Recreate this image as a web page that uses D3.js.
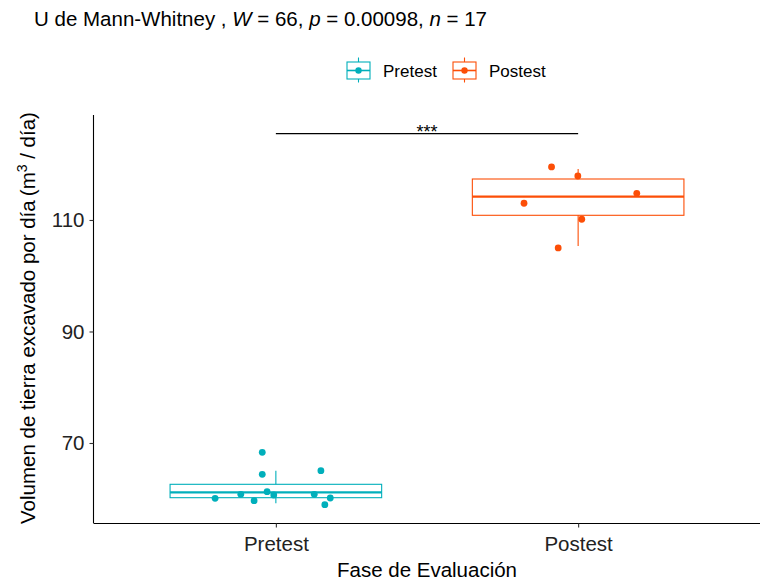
<!DOCTYPE html>
<html><head><meta charset="utf-8">
<script src="https://cdn.jsdelivr.net/npm/d3@7"></script>
<style>body{margin:0;background:#fff}svg{display:block;font-family:"Liberation Sans",Arial,sans-serif}</style>
</head><body>
<script>
const categories = ["Pretest", "Postest"];
const colors = ["#00AFBB", "#FC4E07"];
// individual observations
const pretestValues = [68.33, 64.38, 65.03, 60.08, 60.8, 59.65, 61.27, 60.67, 60.8, 60.13, 58.93];
const pretestJitter = [-0.045, -0.045, 0.149, -0.201, -0.116, -0.072, -0.029, -0.007, 0.127, 0.180, 0.162];
const postestValues = [119.51, 117.89, 114.79, 113.0, 110.13, 104.98];
const postestJitter = [-0.088, -0.001, 0.194, -0.179, 0.012, -0.066];
// box statistics [lower whisker, q1, median, q3, upper whisker]
const pretestBox = [59.18, 60.19, 61.16, 62.59, 65.03];
const postestBox = [105.34, 110.84, 114.18, 117.35, 119.15];
const yTicks = [70, 90, 110];
const sigY = 125.5, sigLabel = "***";

const W = 764, H = 585;
const FONT = "Liberation Sans, Arial, sans-serif";
const svg = d3.select("body").append("svg").attr("width", W).attr("height", H);

const x = d3.scalePoint().domain(categories).range([94.5, 759.5]).padding(0.6);
const step = x.step();
const y = d3.scaleLinear().domain([55.65, 128.83]).range([523, 115]);

const groups = [
  {cat: categories[0], color: colors[0], vals: pretestValues, jit: pretestJitter, box: pretestBox},
  {cat: categories[1], color: colors[1], vals: postestValues, jit: postestJitter, box: postestBox}
];

// Axes
const yAxis = d3.axisLeft(y).tickValues(yTicks).tickSize(4).tickPadding(5);
const gy = svg.append("g").attr("transform", "translate(93.5,0)").call(yAxis);
gy.select(".domain").attr("d", `M0,${y.range()[1]}V${y.range()[0]}`).attr("stroke", "#000").attr("stroke-width", 1.1);
gy.selectAll(".tick line").attr("stroke", "#333").attr("stroke-width", 1.1);
gy.selectAll(".tick text").attr("font-size", 20.5).attr("fill", "#222").attr("font-family", FONT);

const xAxis = d3.axisBottom(x).tickSize(4).tickPadding(9);
const gx = svg.append("g").attr("transform", "translate(0,523.5)").call(xAxis);
gx.select(".domain").attr("d", `M93.5,0H760`).attr("stroke", "#000").attr("stroke-width", 1.1);
gx.selectAll(".tick line").attr("stroke", "#333").attr("stroke-width", 1.1);
gx.selectAll(".tick text").attr("font-size", 20.5).attr("fill", "#222").attr("font-family", FONT);

// Boxes
const bw = step * 0.7;
groups.forEach(g => {
  const cx = x(g.cat);
  const gg = svg.append("g");
  const [lo, q1, med, q3, hi] = g.box;
  gg.append("line").attr("x1", cx).attr("x2", cx).attr("y1", y(q3)).attr("y2", y(hi)).attr("stroke", g.color).attr("stroke-width", 1.1);
  gg.append("line").attr("x1", cx).attr("x2", cx).attr("y1", y(q1)).attr("y2", y(lo)).attr("stroke", g.color).attr("stroke-width", 1.1);
  gg.append("rect").attr("x", cx - bw / 2).attr("y", y(q3)).attr("width", bw).attr("height", y(q1) - y(q3))
    .attr("fill", "none").attr("stroke", g.color).attr("stroke-width", 1.1);
  gg.append("line").attr("x1", cx - bw / 2).attr("x2", cx + bw / 2).attr("y1", y(med)).attr("y2", y(med)).attr("stroke", g.color).attr("stroke-width", 2.2);
  gg.selectAll("circle").data(g.vals).join("circle")
    .attr("cx", (d, i) => cx + g.jit[i] * step).attr("cy", d => y(d)).attr("r", 3.4).attr("fill", g.color);
});

// significance bracket
svg.append("line").attr("x1", x(categories[0])).attr("x2", x(categories[1])).attr("y1", y(sigY)).attr("y2", y(sigY))
  .attr("stroke", "#000").attr("stroke-width", 1.3);
svg.append("text").attr("x", (x(categories[0]) + x(categories[1])) / 2).attr("y", y(sigY) + 4.5).attr("text-anchor", "middle")
  .attr("font-size", 18).attr("fill", "#000").text(sigLabel);

// Title
const t = svg.append("text").attr("x", 34).attr("y", 26).attr("font-size", 20.5).attr("fill", "#000");
t.append("tspan").text("U de Mann-Whitney ,");
t.append("tspan").attr("font-style", "italic").text(" W");
t.append("tspan").text(" = 66, ");
t.append("tspan").attr("font-style", "italic").text("p");
t.append("tspan").text(" = 0.00098, ");
t.append("tspan").attr("font-style", "italic").text("n");
t.append("tspan").text(" = 17");

// Legend
const leg = svg.append("g");
const legX = [347, 453];
const legTX = [383, 489];
groups.forEach((g, i) => {
  const kx = legX[i], kw = 23;
  const k = leg.append("g");
  k.append("line").attr("x1", kx + kw / 2).attr("x2", kx + kw / 2).attr("y1", 57.5).attr("y2", 82.5).attr("stroke", g.color).attr("stroke-width", 1.1);
  k.append("rect").attr("x", kx).attr("y", 62).attr("width", kw).attr("height", 17).attr("fill", "#fff").attr("stroke", g.color).attr("stroke-width", 1.1);
  k.append("line").attr("x1", kx).attr("x2", kx + kw).attr("y1", 70.5).attr("y2", 70.5).attr("stroke", g.color).attr("stroke-width", 1.6);
  k.append("circle").attr("cx", kx + kw / 2).attr("cy", 70.5).attr("r", 3.2).attr("fill", g.color);
  leg.append("text").attr("x", legTX[i]).attr("y", 77).attr("font-size", 17).attr("fill", "#000").text(g.cat);
});

// Axis titles
svg.append("text").attr("x", 427).attr("y", 577).attr("text-anchor", "middle").attr("font-size", 20.5).attr("fill", "#000").text("Fase de Evaluación");
const yt = svg.append("text").attr("transform", `translate(35,${(y.range()[0] + y.range()[1]) / 2 - 1}) rotate(-90)`)
  .attr("text-anchor", "middle").attr("font-size", 20.5).attr("fill", "#000");
yt.append("tspan").text("Volumen de tierra excavado por día\u2009(m");
yt.append("tspan").attr("font-size", 14).attr("dy", -8).text("3");
yt.append("tspan").attr("dy", 8).text(" / día)");
</script>
</body></html>
